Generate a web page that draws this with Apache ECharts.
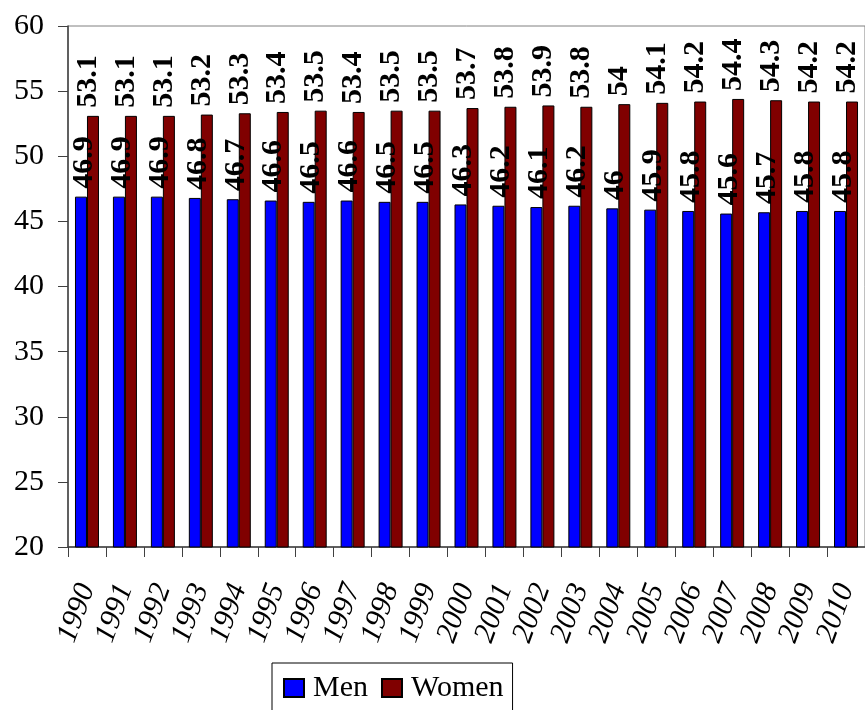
<!DOCTYPE html>
<html>
<head>
<meta charset="utf-8">
<script src="https://cdn.jsdelivr.net/npm/echarts@6/dist/echarts.min.js"></script>
<style>html,body{margin:0;padding:0;background:#fff}#c{width:865px;height:710px}</style>
</head>
<body>
<div id="c"></div>
<script>
var years = ['1990','1991','1992','1993','1994','1995','1996','1997','1998','1999','2000','2001','2002','2003','2004','2005','2006','2007','2008','2009','2010'];
var men = [46.9,46.9,46.9,46.8,46.7,46.6,46.5,46.6,46.5,46.5,46.3,46.2,46.1,46.2,46,45.9,45.8,45.6,45.7,45.8,45.8];
var women = [53.1,53.1,53.1,53.2,53.3,53.4,53.5,53.4,53.5,53.5,53.7,53.8,53.9,53.8,54,54.1,54.2,54.4,54.3,54.2,54.2];
var yTicks = [20,25,30,35,40,45,50,55,60];

var FONT = 'Liberation Serif';
var chart = echarts.init(document.getElementById('c'));
function lbl(off){
  return {show:true, position:'top', rotate:90, align:'left', verticalAlign:'middle', distance:8,
    offset: off,
    fontFamily:FONT, fontWeight:'bold', fontSize:30, color:'#000'};
}
chart.setOption({
  animation:false,
  backgroundColor:'#fff',
  grid:{left:68, top:26, width:798, height:521, show:true, borderColor:'#808080', borderWidth:1, backgroundColor:'transparent'},
  xAxis:{type:'category', data:years, boundaryGap:true,
    axisLine:{lineStyle:{color:'#404040', width:1.5}},
    axisTick:{show:true, length:10, inside:false, alignWithLabel:false, lineStyle:{color:'#404040'}},
    axisLabel:{interval:0, rotate:70, margin:38, fontFamily:FONT, fontStyle:'italic', fontSize:30, color:'#000'}},
  yAxis:{type:'value', min:yTicks[0], max:yTicks[yTicks.length-1], interval:5,
    axisLine:{show:true, lineStyle:{color:'#404040', width:1.5}},
    axisTick:{show:true, length:10, lineStyle:{color:'#404040'}},
    splitLine:{show:false},
    axisLabel:{margin:24, fontFamily:FONT, fontSize:30, color:'#000'}},
  legend:{left:272, top:663, orient:'horizontal', borderColor:'#000', borderWidth:1,
    padding:[10,9,14,11], itemWidth:20, itemHeight:18, itemGap:13, icon:'rect',
    textStyle:{fontFamily:FONT, fontSize:30, color:'#000', padding:[0,0,0,4]},
    data:['Men','Women']},
  series:[
    {name:'Men', type:'bar', data:men, barWidth:12, barGap:'0%',
      itemStyle:{color:'#0000FF', borderColor:'#000', borderWidth:1},
      label:lbl([0,3])},
    {name:'Women', type:'bar', data:women, barWidth:12, barGap:'0%',
      itemStyle:{color:'#800000', borderColor:'#000', borderWidth:1},
      label:lbl([0,-5])}
  ]
});
</script>
</body>
</html>
